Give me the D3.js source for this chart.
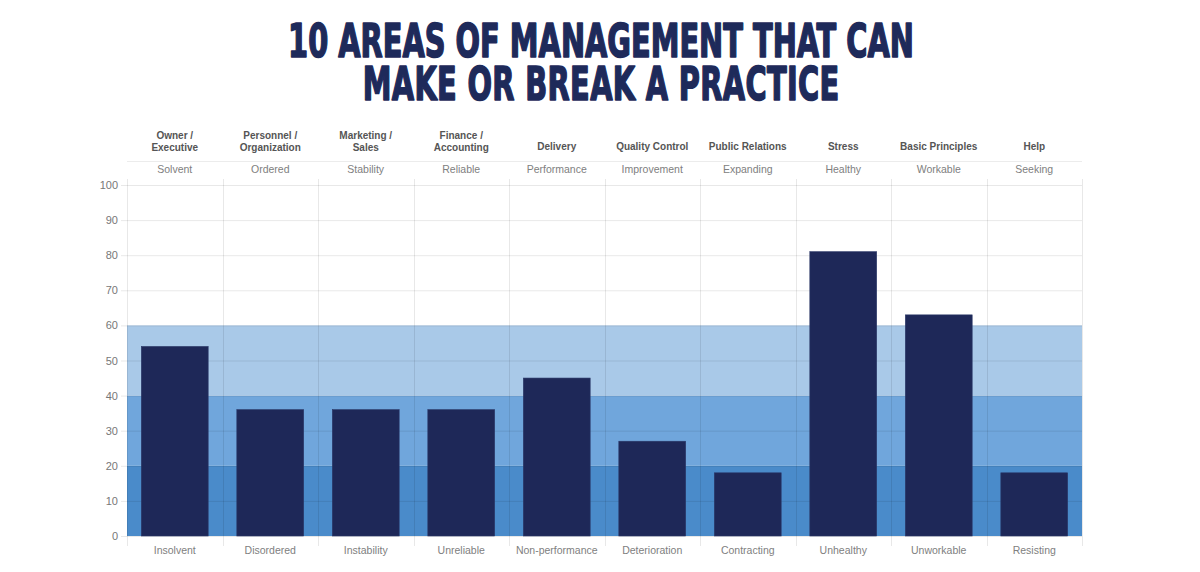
<!DOCTYPE html>
<html><head><meta charset="utf-8">
<script src="https://cdn.jsdelivr.net/npm/d3@7"></script>
<style>html,body{margin:0;padding:0;background:#fff;}svg{display:block;}</style>
</head><body>
<svg id="c" width="1200" height="572"></svg>
<script>
const titleLines = ["10 AREAS OF MANAGEMENT THAT CAN", "MAKE OR BREAK A PRACTICE"];
const areas = ["Owner /\nExecutive","Personnel /\nOrganization","Marketing /\nSales","Finance /\nAccounting","Delivery","Quality Control","Public Relations","Stress","Basic Principles","Help"];
const upperStates = ["Solvent","Ordered","Stability","Reliable","Performance","Improvement","Expanding","Healthy","Workable","Seeking"];
const lowerStates = ["Insolvent","Disordered","Instability","Unreliable","Non-performance","Deterioration","Contracting","Unhealthy","Unworkable","Resisting"];
const values = [54,36,36,36,45,27,18,81,63,18];
const bandRanges = [[0,20],[20,40],[40,60]];
const bandColors = ["#4a8bca","#70a6dc","#a9c9e8"];
const yTicks = [0,10,20,30,40,50,60,70,80,90,100];

const svg = d3.select("#c");
const L = 127, R = 1082, T = 185, B = 536;
const x = d3.scaleBand().domain(d3.range(areas.length)).range([L,R]).paddingInner(0.3).paddingOuter(0.15);
const xc = d3.scaleBand().domain(d3.range(areas.length)).range([L,R]);
const y = d3.scaleLinear().domain([0,100]).range([B,T]);

// title: one text block, horizontally scaled to mimic the condensed display face
const titleW = [626, 477];
const gt = svg.append("g");
const tt = gt.append("text")
  .attr("text-anchor","middle")
  .style("font-family","'DejaVu Sans Condensed','DejaVu Sans',sans-serif")
  .style("font-weight","bold")
  .style("font-size","47px")
  .style("fill","#1e2a5a")
  .style("stroke","#1e2a5a").style("stroke-width","1.6px").style("stroke-linejoin","round");
const sp = titleLines.map((line,i)=> tt.append("tspan").attr("x",0).attr("y",i*43).text(line));
const w1 = sp[0].node().getComputedTextLength();
const sx = titleW[0]/w1;
const w2 = sp[1].node().getComputedTextLength();
const ls = (titleW[1]/sx - w2) / titleLines[1].length;
sp[1].style("letter-spacing", ls+"px").attr("dx", ls/2);
gt.attr("transform",`translate(601,57) scale(${sx},1)`);

// bands
svg.selectAll("rect.band").data(bandRanges).join("rect")
  .attr("x",L).attr("width",R-L)
  .attr("y",d=>y(d[1])).attr("height",d=>y(d[0])-y(d[1]))
  .attr("fill",(d,i)=>bandColors[i]);

// horizontal grid
svg.selectAll("line.hg").data(yTicks).join("line")
  .attr("x1",L-6).attr("x2",R).attr("y1",d=>y(d)+0.5).attr("y2",d=>y(d)+0.5)
  .attr("stroke","rgba(0,0,0,0.09)").attr("stroke-width",1);
// vertical grid
const vlines = d3.range(areas.length+1).map(i=> i<areas.length ? xc(i) : R);
svg.selectAll("line.vg").data(vlines).join("line")
  .attr("x1",d=>Math.round(d)+0.5).attr("x2",d=>Math.round(d)+0.5)
  .attr("y1",179).attr("y2",546)
  .attr("stroke","rgba(0,0,0,0.09)").attr("stroke-width",1);

// header separator
svg.append("line").attr("x1",L).attr("x2",R).attr("y1",161.5).attr("y2",161.5)
  .attr("stroke","#ececec");

// bars
svg.selectAll("rect.bar").data(values).join("rect")
  .attr("x",(d,i)=>x(i)).attr("width",x.bandwidth())
  .attr("y",d=>y(d)).attr("height",d=>B-y(d))
  .attr("fill","#1e2858").attr("stroke","#2a3768").attr("stroke-width",0.6);

// y tick labels
svg.selectAll("text.yt").data(yTicks).join("text")
  .attr("x",118).attr("y",d=>y(d)+4)
  .attr("text-anchor","end")
  .style("font-family","'Liberation Sans',Arial,sans-serif").style("font-size","11px")
  .style("fill","#777").text(d=>d);

// area labels (top)
const g = svg.append("g");
areas.forEach((a,i)=>{
  const lines = a.split("\n");
  const cx = xc(i)+xc.bandwidth()/2;
  const t = g.append("text").attr("text-anchor","middle")
    .style("font-family","'Liberation Sans',Arial,sans-serif").style("font-size","10px")
    .style("font-weight","bold").style("fill","#555");
  if(lines.length===2){
    t.append("tspan").attr("x",cx).attr("y",139).text(lines[0]);
    t.append("tspan").attr("x",cx).attr("y",151).text(lines[1]);
  } else {
    t.append("tspan").attr("x",cx).attr("y",150).text(lines[0]);
  }
});
svg.selectAll("text.us").data(upperStates).join("text")
  .attr("x",(d,i)=>xc(i)+xc.bandwidth()/2).attr("y",173)
  .attr("text-anchor","middle")
  .style("font-family","'Liberation Sans',Arial,sans-serif").style("font-size","10.5px")
  .style("fill","#808080").text(d=>d);
svg.selectAll("text.ls").data(lowerStates).join("text")
  .attr("x",(d,i)=>xc(i)+xc.bandwidth()/2).attr("y",554)
  .attr("text-anchor","middle")
  .style("font-family","'Liberation Sans',Arial,sans-serif").style("font-size","10.5px")
  .style("fill","#808080").text(d=>d);
</script>
</body></html>
